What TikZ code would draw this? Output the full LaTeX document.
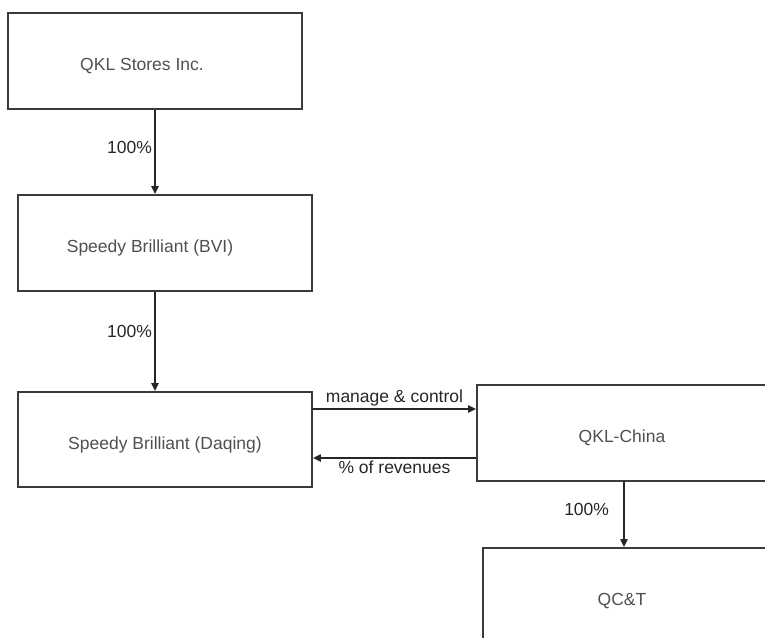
\documentclass[tikz,border=0pt]{standalone}
\usepackage{fontspec}
\setmainfont{Liberation Sans}
\usetikzlibrary{arrows.meta, positioning, calc}
\definecolor{boxline}{HTML}{3A3A3A}
\definecolor{textgray}{HTML}{505050}

\begin{document}
\begin{tikzpicture}[
  x=1pt, y=-1pt,
  entity/.style={rectangle, draw=boxline, line width=1.8pt, fill=white, font=\fontsize{17.5}{20}\selectfont\color{textgray}, inner sep=0pt, text height=23.5pt, text depth=4pt},
  pct/.style={font=\fontsize{17.5}{20}\selectfont\color{textgray}, inner sep=2pt},
  arr/.style={-{Triangle[length=8pt, width=7pt]}, line width=2pt, color=black!85},
]
\useasboundingbox (0,0) rectangle (765,637);

% --- ownership chain (left) ---
\node[entity, minimum width=294, minimum height=96] (qkl) at (155,61) {QKL Stores Inc.\hspace*{26pt}};
\node[entity, minimum width=294, minimum height=96] (bvi) at (165,243) {Speedy Brilliant (BVI)\hspace*{30pt}};
\node[entity, minimum width=294, minimum height=95] (daqing) at (165,439.5) {Speedy Brilliant (Daqing)};

% --- operating companies (right) ---
\node[entity, minimum width=290, minimum height=96] (china) at (622,433) {QKL-China};
\node[entity, minimum width=284, minimum height=96] (qct) at (625,596) {QC\&T\hspace*{6pt}};

% --- arrows ---
\draw[arr] (qkl.south) -- (qkl.south |- bvi.north) node[pct, pos=0.45, left] {100\%};
\draw[arr] (bvi.south -| qkl.south) -- (daqing.north -| qkl.south) node[pct, pos=0.4, left] {100\%};
\draw[arr] (daqing.east |- 0,409) -- (china.west |- 0,409) node[pct, midway, above] {manage \& control};
\draw[arr] (china.west |- 0,458) -- (daqing.east |- 0,458) node[pct, midway, below] {\% of revenues};
\draw[arr] (china.south -| 624,0) -- (qct.north -| 624,0) node[pct, pos=0.42, left, xshift=-12] {100\%};
\end{tikzpicture}
\end{document}
